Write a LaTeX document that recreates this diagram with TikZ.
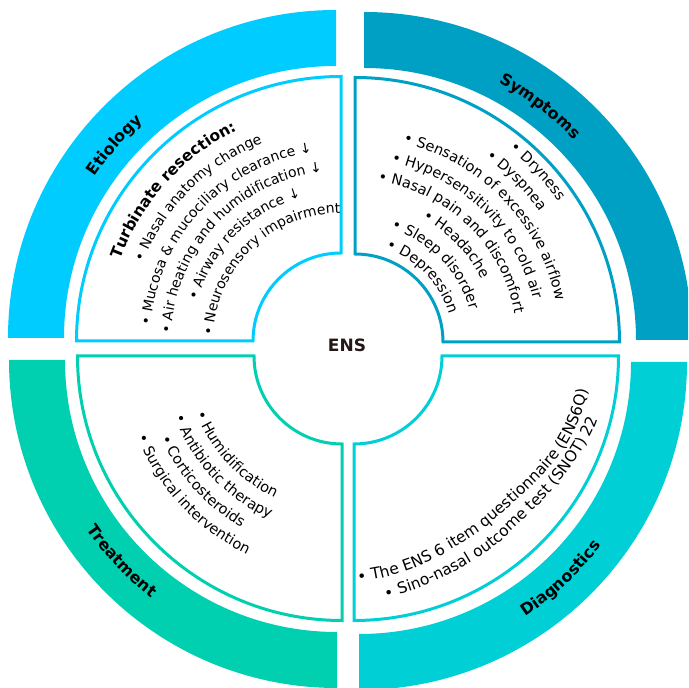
\documentclass[tikz,border=0pt]{standalone}
\usepackage{fontspec}
\setmainfont{DejaVu Sans}
\usetikzlibrary{decorations.text}
\definecolor{cEti}{HTML}{00CCFF}
\definecolor{cSym}{HTML}{00A0C4}
\definecolor{cTre}{HTML}{00CFB0}
\definecolor{cDia}{HTML}{00D0D6}
\definecolor{ensc}{HTML}{231815}
% #1 centre, #2 radius, #3 start angle, #4 end angle, #5 text
\newcommand\arctext[5]{%
  \path[decorate,decoration={text along path,text align=center,text={#5}}]
    ([shift={#1}]#3:#2) arc[start angle=#3,end angle=#4,radius=#2];}
\newcommand\ringseg[4]{% centre, start, end, colour
  \fill[#4] ([shift={#1}]#2:328) arc[start angle=#2,end angle=#3,radius=328]
    -- ([shift={#1}]#3:272) arc[start angle=#3,end angle=#2,radius=272] -- cycle;}
\newcommand\panelseg[4]{% centre, start, end, colour
  \draw[#4,line width=3pt,fill=white,line join=miter] ([shift={#1}]#2:88) -- ([shift={#1}]#2:264.5)
    arc[start angle=#2,end angle=#3,radius=264.5]
    -- ([shift={#1}]#3:88) arc[start angle=#3,end angle=#2,radius=88] -- cycle;}
\def\rf{|\fontsize{14}{16}\selectfont|}
\def\rg{|\fontsize{14.5}{16}\selectfont|}
\def\rd{|\fontsize{15.5}{17}\selectfont|}
\def\lbf{|\bfseries\fontsize{16}{18}\selectfont|}
\begin{document}
\begin{tikzpicture}[x=1pt,y=1pt]
\useasboundingbox (0,0) rectangle (688,688);
\clip (0,0) rectangle (688,688);
% outer ring
\ringseg{(336,350)}{90}{180}{cEti}
\ringseg{(364,348)}{0}{90}{cSym}
\ringseg{(337,328)}{180}{270}{cTre}
\ringseg{(359,326)}{270}{360}{cDia}
% panels
\panelseg{(341,347)}{90}{180}{cEti}
\panelseg{(355,346)}{0}{90}{cSym}
\panelseg{(342,332)}{180}{270}{cTre}
\panelseg{(354,332)}{270}{360}{cDia}
% ring labels
\arctext{(336,350)}{290}{179}{99}{\lbf Etiology}
\arctext{(364,348)}{290}{93}{13}{\lbf Symptoms}
\arctext{(337,328)}{302}{183}{263}{\lbf Treatment}
\arctext{(359,326)}{304}{273}{353}{\lbf Diagnostics}
% etiology panel
\arctext{(341,347)}{235}{208}{68}{|\bfseries\fontsize{15.5}{18}\selectfont|Turbinate resection:}
\arctext{(341,347)}{213}{205}{65}{\rf • Nasal anatomy change}
\arctext{(341,347)}{191}{207}{67}{\rf • Mucosa {\&} mucociliary clearance ↓}
\arctext{(341,347)}{170}{207}{67}{\rf • Air heating and humidification ↓}
\arctext{(341,347)}{149}{205}{65}{\rf • Airway resistance ↓}
\arctext{(341,347)}{128}{204}{64}{\rf • Neurosensory impairment}
% symptoms panel
\arctext{(355,346)}{247}{113}{-27}{\rg • Dryness}
\arctext{(355,346)}{226}{115}{-25}{\rg • Dyspnea}
\arctext{(355,346)}{205}{114}{-26}{\rg • Sensation of excessive airflow}
\arctext{(355,346)}{183}{116}{-24}{\rg • Hypersensitivity to cold air}
\arctext{(355,346)}{162}{116}{-24}{\rg • Nasal pain and discomfort}
\arctext{(355,346)}{141}{114}{-26}{\rg • Headache}
\arctext{(355,346)}{119}{114}{-26}{\rg • Sleep disorder}
\arctext{(355,346)}{98}{114}{-26}{\rg • Depression}
% treatment panel
\arctext{(342,332)}{157}{153}{293}{\rg • Humidification}
\arctext{(342,332)}{178}{153}{293}{\rg • Antibiotic therapy}
\arctext{(342,332)}{199}{152}{292}{\rg • Corticosteroids}
\arctext{(342,332)}{220}{153}{293}{\rg • Surgical intervention}
% diagnostics panel
\path[decorate,decoration={text along path,text align=left,text={\rd • The ENS 6 item questionnaire (ENS6Q)}}]
  plot[smooth,tension=0.5] coordinates {(358,106) (382,110) (412,119) (445,135) (480,157) (512,184) (540,210) (562,236) (578,265) (587,295) (590,330)};
\path[decorate,decoration={text along path,text align=left,text={\rd • Sino-nasal outcome test (SNOT) 22}}]
  plot[smooth,tension=0.5] coordinates {(386,89) (419,100) (455,117) (492,140) (525,170) (553,198) (576,228) (594,260) (604,292) (607,328)};
% centre
\node[font=\bfseries\fontsize{17}{20}\selectfont,text=ensc] (ens) at (347,343) {ENS};
\end{tikzpicture}
\end{document}
